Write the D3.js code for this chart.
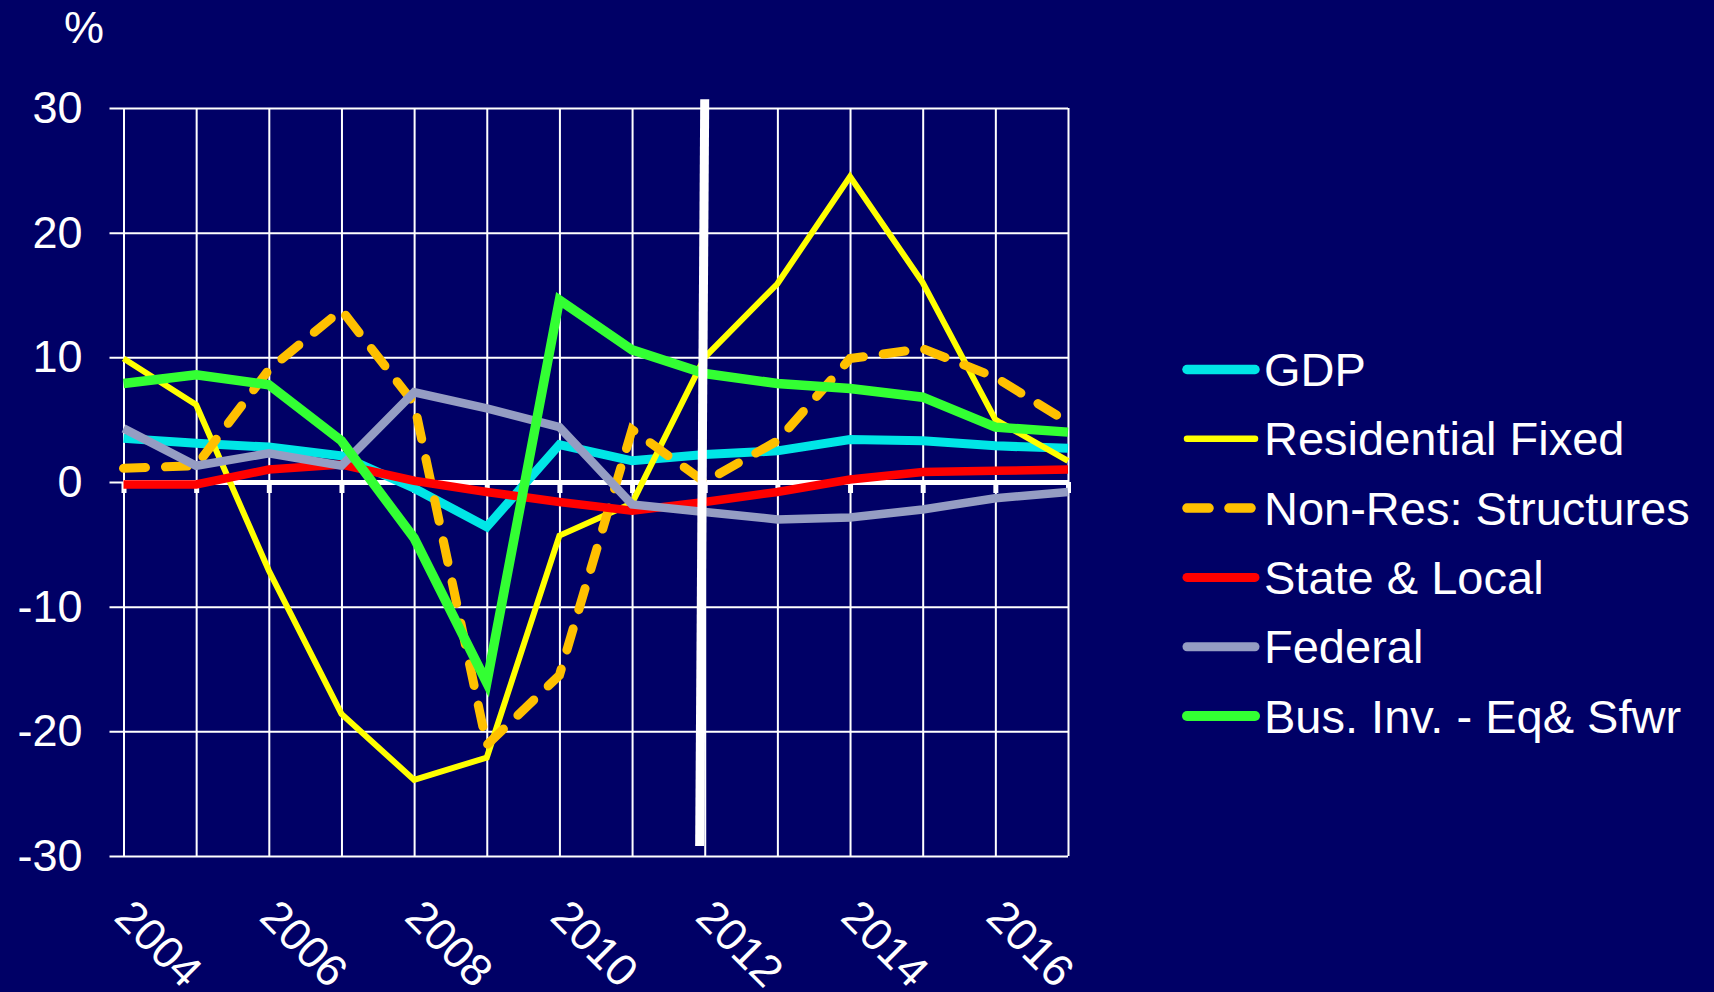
<!DOCTYPE html>
<html><head><meta charset="utf-8">
<script src="https://cdn.jsdelivr.net/npm/d3@7"></script>
<style>
html,body{margin:0;padding:0;background:#000066;overflow:hidden}
text{font-family:"Liberation Sans",Arial,sans-serif;fill:#fff}
</style>
</head><body>
<svg id="c" width="1714" height="992"></svg>
<script>
// ---------- data ----------
const years = [2004,2005,2006,2007,2008,2009,2010,2011,2012,2013,2014,2015,2016,2017];
const gdp         = [3.5, 3.1, 2.8, 2.1, -0.5, -3.6, 3.0, 1.7, 2.2, 2.5, 3.4, 3.3, 2.9, 2.7];
const residential = [9.9, 6.2, -7.1, -18.6, -23.9, -22.1, -4.3, -1.7, 10.0, 15.9, 24.5, 16.0, 5.0, 1.7];
const nonResStruct= [1.1, 1.3, 9.0, 13.8, 6.3, -21.1, -15.5, 4.2, 0.0, 3.3, 9.9, 10.7, 8.4, 4.8];
const stateLocal  = [-0.2, -0.2, 1.0, 1.4, 0.1, -0.8, -1.6, -2.3, -1.6, -0.8, 0.2, 0.8, 0.9, 1.0];
const federal     = [4.3, 1.3, 2.3, 1.3, 7.2, 5.9, 4.4, -1.8, -2.4, -3.0, -2.85, -2.2, -1.3, -0.8];
const busInv      = [7.9, 8.6, 7.8, 3.3, -4.5, -16.1, 14.6, 10.6, 8.7, 7.9, 7.5, 6.8, 4.4, 4.0];
const seriesNames = ["GDP","Residential Fixed","Non-Res: Structures","State & Local","Federal","Bus. Inv. - Eq& Sfwr"];
const yTickValues = [-30,-20,-10,0,10,20,30];
const xLabelYears = [2004,2006,2008,2010,2012,2014,2016];
const unitLabel = "%";
const forecastMarker = [{year:2012, value:30.7},{year:2011.93, value:-29.2}];

// ---------- styles ----------
const styles = [
  {color:"#00E6E6", width:9},
  {color:"#FFFF00", width:6},
  {color:"#FFC000", width:9, dash:"22,20"},
  {color:"#FF0000", width:8.5},
  {color:"#959DC3", width:8.5},
  {color:"#33FF33", width:9.5}
];
const allSeries = [gdp, residential, nonResStruct, stateLocal, federal, busInv];

const svg = d3.select("#c");
svg.append("rect").attr("width",1714).attr("height",992).attr("fill","#000066");

const x = d3.scaleLinear().domain([2004,2017]).range([123.5,1068]);
const y = d3.scaleLinear().domain([-30,30]).range([856,108]);

// vertical gridlines
svg.append("g").attr("transform",`translate(0,${y(-30)})`)
  .call(d3.axisBottom(x).tickValues(years).tickSize(-(y(-30)-y(30))).tickSizeOuter(0).tickFormat(""))
  .call(g=>g.select(".domain").remove())
  .call(g=>g.selectAll(".tick line").attr("stroke","#ffffff").attr("stroke-width",2));

// horizontal gridlines + y labels
svg.append("g").attr("transform",`translate(109.5,0)`)
  .call(d3.axisLeft(y).tickValues(yTickValues).tickSize(-(1068-109.5)).tickPadding(27).tickFormat(d=>String(d)))
  .call(g=>g.select(".domain").remove())
  .call(g=>g.selectAll(".tick line").attr("stroke","#ffffff").attr("stroke-width",2))
  .call(g=>g.selectAll(".tick text").attr("font-size",45).attr("fill","#fff")
        .attr("font-family","Liberation Sans, Arial, sans-serif"));

// zero axis with ticks
svg.append("g").attr("transform",`translate(0,${y(0)})`)
  .call(d3.axisBottom(x).tickValues(years).tickSize(11).tickSizeOuter(0).tickFormat(""))
  .call(g=>g.select(".domain").attr("stroke","#fff").attr("stroke-width",5))
  .call(g=>g.selectAll(".tick line").attr("stroke","#fff").attr("stroke-width",5));

// x labels, rotated
svg.append("g").selectAll("text").data(xLabelYears).join("text")
  .attr("transform",d=>`translate(${x(d)-11},${y(-30)+63}) rotate(45)`)
  .attr("font-size",45).attr("text-anchor","start").text(d=>d);

// unit label
svg.append("text").attr("x",64).attr("y",43).attr("font-size",45).text(unitLabel);

// series
const line = d3.line().x((d,i)=>x(years[i])).y(d=>y(d));
allSeries.forEach((vals,i)=>{
  const s = styles[i];
  svg.append("path").attr("d",line(vals)).attr("fill","none")
    .attr("stroke",s.color).attr("stroke-width",s.width)
    .attr("stroke-linejoin","miter").attr("stroke-miterlimit",10)
    .attr("stroke-linecap",s.dash?"round":"butt")
    .attr("stroke-dasharray",s.dash||null);
});

// 2012 marker line
svg.append("path")
  .attr("d",d3.line().x(d=>x(d.year)).y(d=>y(d.value))(forecastMarker))
  .attr("stroke","#fff").attr("stroke-width",9).attr("fill","none");

// legend
const leg = svg.append("g");
seriesNames.forEach((name,i)=>{
  const s = styles[i];
  const cy = 369.5 + i*69.3;
  leg.append("line").attr("x1",1187).attr("x2",1255).attr("y1",cy).attr("y2",cy)
    .attr("stroke",s.color).attr("stroke-width",s.width+0.5)
    .attr("stroke-linecap","round").attr("stroke-dasharray",s.dash||null);
  leg.append("text").attr("x",1264).attr("y",cy+16.5).attr("font-size",47).text(name);
});
</script>
</body></html>
